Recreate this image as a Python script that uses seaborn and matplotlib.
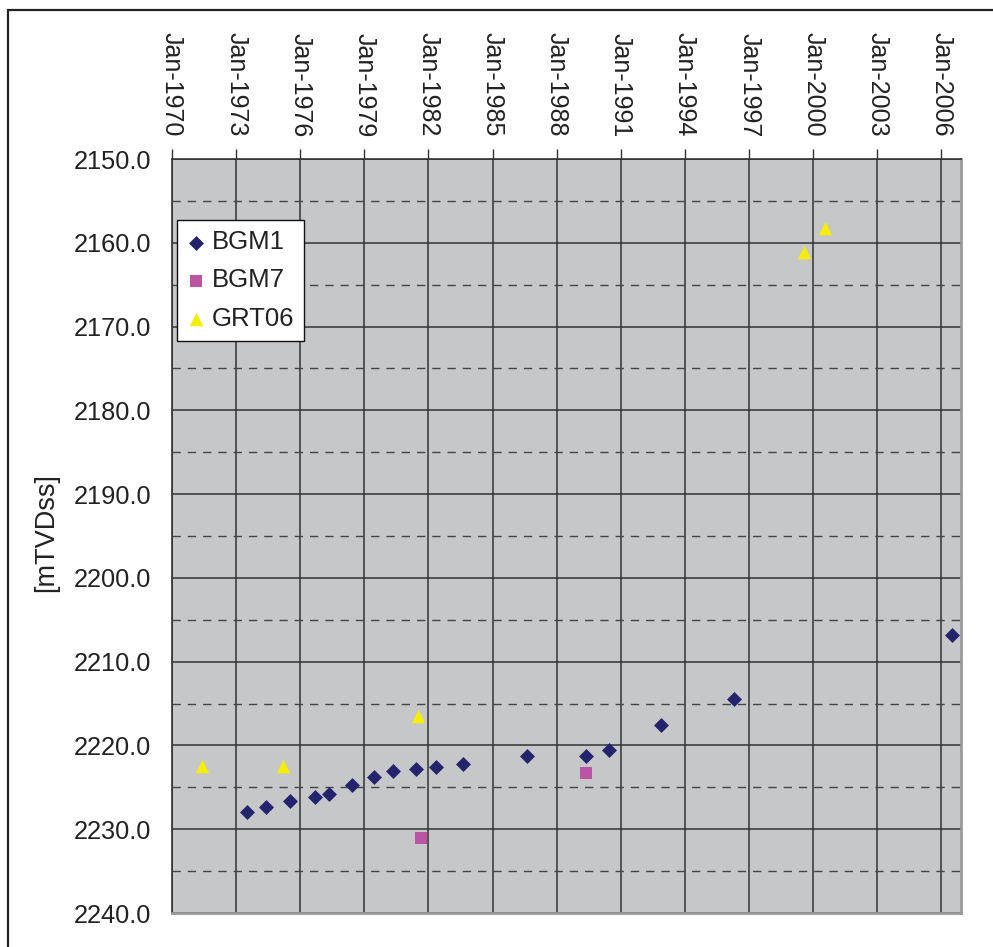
import pandas as pd
import matplotlib
matplotlib.use("Agg")
import matplotlib.pyplot as plt
import matplotlib.dates as mdates
from matplotlib.ticker import MultipleLocator, FormatStrFormatter, FixedLocator
from matplotlib.patches import Rectangle
import seaborn as sns

# Depth of the contact per well
BGM1_DATES = ["1973-07-05", "1974-06-03", "1975-07-09", "1976-09-02", "1977-05-12",
              "1978-06-07", "1979-06-14", "1980-05-12", "1981-06-07", "1982-05-12",
              "1983-08-11", "1986-08-18", "1989-05-19", "1990-06-21", "1992-11-21",
              "1996-04-23", "2006-06-25"]
BGM1_DEPTH = [2227.9, 2227.4, 2226.6, 2226.2, 2225.8, 2224.7, 2223.8, 2223.0, 2222.8,
              2222.6, 2222.2, 2221.3, 2221.3, 2220.5, 2217.5, 2214.5, 2206.8]

BGM7_DATES = ["1981-08-29", "1989-05-08"]
BGM7_DEPTH = [2231.0, 2223.3]

GRT06_DATES = ["1971-06-03", "1975-03-11", "1981-07-13", "1999-07-27", "2000-07-23"]
GRT06_DEPTH = [2222.4, 2222.4, 2216.5, 2161.1, 2158.2]

SERIES = [
    ("BGM1", BGM1_DATES, BGM1_DEPTH, "D", "#24246e", 58),
    ("BGM7", BGM7_DATES, BGM7_DEPTH, "s", "#bb55a3", 68),
    ("GRT06", GRT06_DATES, GRT06_DEPTH, "^", "#f5ee00", 95),
]

YEAR_TICKS = pd.date_range("1970-01-01", "2006-01-01", freq="36MS")

sns.set_style("white")
plt.rcParams["font.family"] = ["Liberation Sans", "DejaVu Sans"]

fig = plt.figure(figsize=(9.93, 9.47), dpi=100)
ax = fig.add_axes([172 / 993, 1 - 913 / 947, (961 - 172) / 993, (913 - 159) / 947])
ax.set_facecolor("#c6c7c9")

for name, dates, depth, marker, color, size in SERIES:
    df = pd.DataFrame({"date": pd.to_datetime(dates), "depth": depth})
    sns.scatterplot(data=df, x="date", y="depth", marker=marker, color=color,
                    s=size, linewidth=0, label=name, ax=ax, zorder=3)

# y axis: depth increasing downwards
ax.set_ylim(2240, 2150)
ax.yaxis.set_major_locator(MultipleLocator(10))
ax.yaxis.set_minor_locator(MultipleLocator(5))
ax.yaxis.set_major_formatter(FormatStrFormatter("%.1f"))

# x axis: dates on top
ax.set_xlim(pd.Timestamp("1970-01-01"), pd.Timestamp("2006-12-01"))
ax.xaxis.set_major_locator(FixedLocator(mdates.date2num(YEAR_TICKS)))
ax.xaxis.set_major_formatter(mdates.DateFormatter("%b-%Y"))
ax.xaxis.tick_top()
ax.set_xlabel("")
ax.set_ylabel("")

ax.tick_params(axis="x", which="major", direction="out", length=7, width=1,
               color="#333333", pad=9, labelsize=18, labelrotation=-90,
               labelcolor="#222222")
ax.tick_params(axis="y", which="major", direction="out", length=7, width=1,
               color="#333333", pad=8, labelsize=18.3, labelcolor="#222222")
ax.tick_params(which="minor", length=0)

ax.grid(which="major", axis="both", color="#333333", linewidth=1.1, linestyle="-")
ax.grid(which="minor", axis="y", color="#444444", linewidth=1.0, linestyle=(0, (6, 5)))
ax.set_axisbelow(True)

for side in ["left", "top"]:
    ax.spines[side].set_color("#333333")
    ax.spines[side].set_linewidth(1.2)
for side in ["right", "bottom"]:
    ax.spines[side].set_color("#999999")
    ax.spines[side].set_linewidth(2.0)

fig.text(46 / 993, 1 - 533 / 947, "[mTVDss]", rotation=90, ha="center", va="center",
         fontsize=19.5, color="#222222")

leg = ax.legend(loc="upper left", bbox_to_anchor=(0.0063, 0.919), borderaxespad=0,
                fontsize=18.5, frameon=True, fancybox=False, shadow=False,
                scatterpoints=1, handlelength=0.7, handletextpad=0.25,
                labelspacing=0.55, borderpad=0.4)
leg.get_frame().set_edgecolor("#111111")
leg.get_frame().set_linewidth(1.0)
leg.get_frame().set_facecolor("white")
leg.get_frame().set_alpha(1)
for t in leg.get_texts():
    t.set_color("#222222")

# chart area border
fig.add_artist(Rectangle((8 / 993, -0.1), 1.2, 1.1 - 10 / 947, transform=fig.transFigure,
                         fill=False, edgecolor="#222222", linewidth=1.6))

fig.savefig("out.png", dpi=100)
